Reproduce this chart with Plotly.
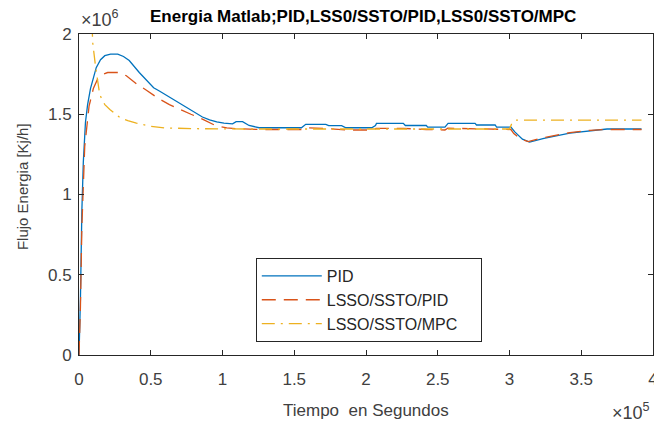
import plotly.graph_objects as go

# ---- data ----
t_pid = [0, 1000, 2000, 3000, 4500, 6000, 8000, 10000, 12000, 15000, 18000, 22000, 27000, 31000,
         35000, 42000, 47000, 52000, 56000, 63000, 69000, 75000, 81000, 86000, 91000, 96000,
         101000, 107000, 109500, 114000, 118500, 125500, 155000, 158000, 172000, 174000, 183000,
         186000, 204000, 206600, 207300, 226000, 227400, 242000, 243000, 255000, 257200, 276000,
         277000, 290000, 291000, 301000, 303700, 309000, 314000, 324000, 342000, 356000, 368000, 392000]
y_pid = [0, 0.35e6, 0.9e6, 1.2e6, 1.45e6, 1.56e6, 1.66e6, 1.73e6, 1.79e6, 1.84e6, 1.865e6, 1.875e6, 1.875e6, 1.86e6,
         1.835e6, 1.76e6, 1.71e6, 1.665e6, 1.645e6, 1.607e6, 1.575e6, 1.545e6, 1.512e6, 1.483e6, 1.465e6, 1.452e6,
         1.445e6, 1.44e6, 1.454e6, 1.454e6, 1.43e6, 1.416e6, 1.416e6, 1.437e6, 1.437e6, 1.429e6, 1.429e6,
         1.416e6, 1.416e6, 1.43e6, 1.443e6, 1.443e6, 1.43e6, 1.43e6, 1.42e6, 1.42e6, 1.443e6, 1.443e6,
         1.433e6, 1.433e6, 1.42e6, 1.42e6, 1.39e6, 1.345e6, 1.327e6, 1.35e6, 1.383e6, 1.395e6, 1.408e6, 1.408e6]

t_lsso_pid = [0, 1000, 2000, 4000, 7000, 10000, 13000, 17000, 20000, 28000, 33000, 40000, 47000, 55000,
              63000, 70000, 78000, 86000, 95000, 103000, 110000, 125000, 155000, 158000, 172000, 186000,
              204000, 207000, 226000, 242000, 255000, 257000, 276000, 290000, 301000, 303000, 308000,
              313000, 324000, 342000, 356000, 368000, 392000]
y_lsso_pid = [0, 0.3e6, 0.8e6, 1.3e6, 1.55e6, 1.66e6, 1.72e6, 1.75e6, 1.76e6, 1.76e6, 1.74e6, 1.69e6, 1.65e6, 1.6e6,
              1.56e6, 1.53e6, 1.5e6, 1.47e6, 1.43e6, 1.415e6, 1.41e6, 1.405e6, 1.405e6, 1.415e6, 1.412e6, 1.402e6,
              1.402e6, 1.412e6, 1.412e6, 1.405e6, 1.402e6, 1.413e6, 1.41e6, 1.405e6, 1.405e6, 1.38e6, 1.345e6,
              1.33e6, 1.355e6, 1.385e6, 1.4e6, 1.405e6, 1.405e6]

t_lsso_mpc = [8000, 9500, 11500, 13000, 14500, 18000, 21500, 28400, 34000,
              40000, 50000, 60000, 80000, 120000, 200000, 300000, 301500, 304000, 392000]
y_lsso_mpc = [2.4e6, 1.95e6, 1.8e6, 1.71e6, 1.62e6, 1.56e6, 1.53e6, 1.48e6, 1.46e6,
              1.445e6, 1.425e6, 1.415e6, 1.41e6, 1.408e6, 1.408e6, 1.408e6, 1.44e6, 1.464e6, 1.464e6]

series_names = ["PID", "LSSO/SSTO/PID", "LSSO/SSTO/MPC"]
x_tick_vals = [0, 50000, 100000, 150000, 200000, 250000, 300000, 350000, 400000]
x_tick_text = ["0", "0.5", "1", "1.5", "2", "2.5", "3", "3.5", "4"]
y_tick_vals = [0, 0.5e6, 1.0e6, 1.5e6, 2.0e6]
y_tick_text = ["0", "0.5", "1", "1.5", "2"]

FONT = "Liberation Sans, Arial, Helvetica, sans-serif"
AX = "#262626"
TXT = "#404040"
PAD = "\u00a0" * 4  # widens the legend box like the reference

fig = go.Figure()
fig.add_trace(go.Scatter(x=t_pid, y=y_pid, mode="lines", name=series_names[0], legendgroup="a",
                         line=dict(color="#0072BD", width=1.3)))
fig.add_trace(go.Scatter(x=t_lsso_pid, y=y_lsso_pid, mode="lines", name=series_names[1], legendgroup="b",
                         line=dict(color="#D95319", width=1.3, dash="14px,8px")))
fig.add_trace(go.Scatter(x=t_lsso_mpc, y=y_lsso_mpc, mode="lines", name=series_names[2] + PAD, legendgroup="c",
                         line=dict(color="#EDB120", width=1.3, dash="13px,6px,2px,6px")))

axis_common = dict(showgrid=False, zeroline=False, showline=True, linecolor=AX, linewidth=1,
                   mirror="ticks", ticks="inside", ticklen=5, tickcolor=AX, tickwidth=1,
                   tickfont=dict(family=FONT, size=17, color=TXT))

fig.update_xaxes(range=[0, 400000], tickvals=x_tick_vals, ticktext=x_tick_text,
                 ticklabelstandoff=9, **axis_common)
fig.update_yaxes(range=[0, 2000000], tickvals=y_tick_vals, ticktext=y_tick_text,
                 ticklabelstandoff=3, **axis_common)

fig.update_layout(
    width=662, height=432,
    margin=dict(l=71, r=13, t=26, b=85),
    paper_bgcolor="white", plot_bgcolor="white",
    font=dict(family=FONT, color=TXT),
    showlegend=True,
    legend=dict(x=0.308, y=0.302, xanchor="left", yanchor="top",
                bgcolor="white", bordercolor=AX, borderwidth=1,
                font=dict(family=FONT, size=16, color="#262626"),
                itemwidth=60, tracegroupgap=3, traceorder="normal"),
    annotations=[
        dict(text="<b>Energia Matlab;PID,LSS0/SSTO/PID,LSS0/SSTO/MPC</b>", xref="paper", yref="paper",
             x=0.5, y=1, xshift=-3, yshift=18, showarrow=False, xanchor="center", yanchor="middle",
             font=dict(family=FONT, size=17, color="#000000")),
        dict(text="×10<sup>6</sup>", xref="paper", yref="paper", x=0, y=1, xshift=0, yshift=16,
             showarrow=False, xanchor="left", yanchor="middle",
             font=dict(family=FONT, size=18, color=TXT)),
        dict(text="×10<sup>5</sup>", xref="paper", yref="paper", x=1, y=0, xshift=-1, yshift=-56,
             showarrow=False, xanchor="right", yanchor="middle",
             font=dict(family=FONT, size=18, color=TXT)),
        dict(text="Tiempo  en Segundos", xref="paper", yref="paper", x=0.5, y=0, yshift=-55,
             showarrow=False, xanchor="center", yanchor="middle",
             font=dict(family=FONT, size=17, color=TXT)),
        dict(text="Flujo Energia [Kj/h]", xref="paper", yref="paper", x=0, y=0.523, xshift=-57,
             showarrow=False, xanchor="center", yanchor="middle", textangle=-90,
             font=dict(family=FONT, size=15, color=TXT)),
    ],
)

fig.write_html("out.html")
